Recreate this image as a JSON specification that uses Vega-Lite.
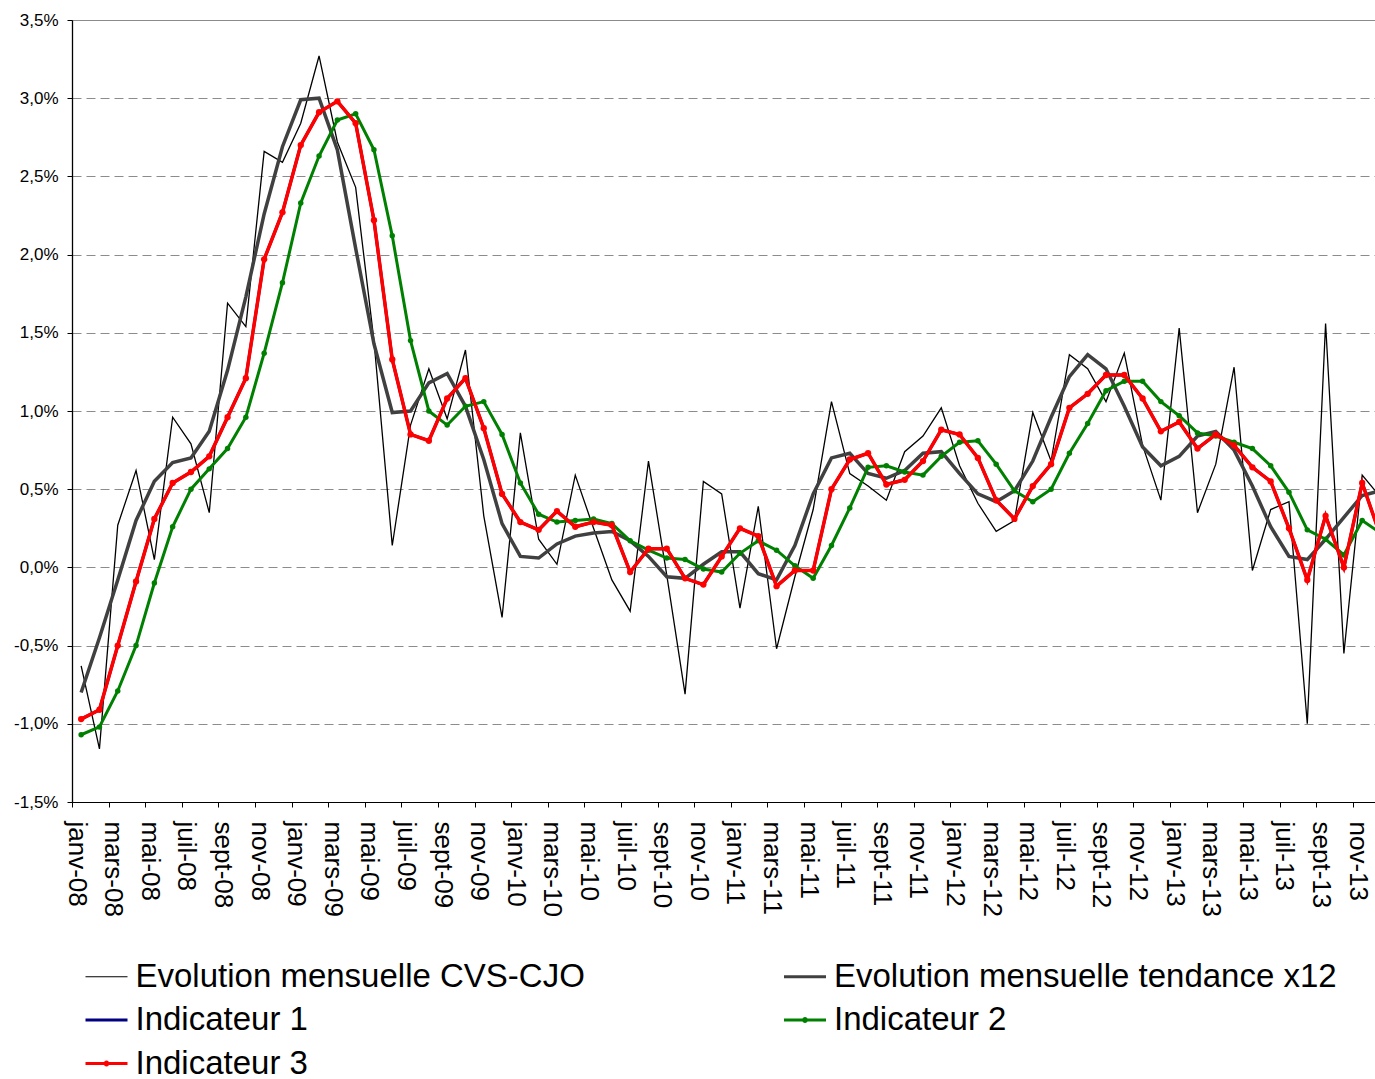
{
  "$schema": "https://vega.github.io/schema/vega-lite/v6.json",
  "width": 1303,
  "height": 782,
  "autosize": {"type": "none"},
  "padding": {"left": 72, "top": 20, "right": 0, "bottom": 277},
  "background": "white",
  "config": {
    "view": {"stroke": "#8c8c8c", "strokeWidth": 1},
    "font": "Liberation Sans"
  },
  "data": {
    "values": [
      {"i":0,"cvs":-0.63,"tend":-0.80,"ind1":-0.97,"ind2":-1.07,"ind3":-0.97},
      {"i":1,"cvs":-1.16,"tend":-0.45,"ind1":-0.91,"ind2":-1.02,"ind3":-0.91},
      {"i":2,"cvs":0.27,"tend":-0.08,"ind1":-0.50,"ind2":-0.79,"ind3":-0.50},
      {"i":3,"cvs":0.62,"tend":0.30,"ind1":-0.09,"ind2":-0.50,"ind3":-0.09},
      {"i":4,"cvs":0.05,"tend":0.55,"ind1":0.31,"ind2":-0.10,"ind3":0.31},
      {"i":5,"cvs":0.96,"tend":0.67,"ind1":0.54,"ind2":0.26,"ind3":0.54},
      {"i":6,"cvs":0.79,"tend":0.70,"ind1":0.61,"ind2":0.50,"ind3":0.61},
      {"i":7,"cvs":0.35,"tend":0.87,"ind1":0.71,"ind2":0.63,"ind3":0.71},
      {"i":8,"cvs":1.69,"tend":1.26,"ind1":0.96,"ind2":0.76,"ind3":0.96},
      {"i":9,"cvs":1.54,"tend":1.73,"ind1":1.21,"ind2":0.96,"ind3":1.21},
      {"i":10,"cvs":2.66,"tend":2.26,"ind1":1.97,"ind2":1.37,"ind3":1.97},
      {"i":11,"cvs":2.59,"tend":2.69,"ind1":2.27,"ind2":1.82,"ind3":2.27},
      {"i":12,"cvs":2.84,"tend":2.99,"ind1":2.70,"ind2":2.33,"ind3":2.70},
      {"i":13,"cvs":3.27,"tend":3.00,"ind1":2.91,"ind2":2.63,"ind3":2.91},
      {"i":14,"cvs":2.72,"tend":2.67,"ind1":2.98,"ind2":2.86,"ind3":2.98},
      {"i":15,"cvs":2.43,"tend":2.04,"ind1":2.84,"ind2":2.90,"ind3":2.84},
      {"i":16,"cvs":1.45,"tend":1.43,"ind1":2.22,"ind2":2.67,"ind3":2.22},
      {"i":17,"cvs":0.14,"tend":0.99,"ind1":1.33,"ind2":2.12,"ind3":1.33},
      {"i":18,"cvs":0.91,"tend":1.00,"ind1":0.85,"ind2":1.45,"ind3":0.85},
      {"i":19,"cvs":1.27,"tend":1.18,"ind1":0.81,"ind2":1.00,"ind3":0.81},
      {"i":20,"cvs":0.95,"tend":1.24,"ind1":1.08,"ind2":0.91,"ind3":1.08},
      {"i":21,"cvs":1.39,"tend":1.03,"ind1":1.21,"ind2":1.03,"ind3":1.21},
      {"i":22,"cvs":0.33,"tend":0.69,"ind1":0.89,"ind2":1.06,"ind3":0.89},
      {"i":23,"cvs":-0.32,"tend":0.28,"ind1":0.47,"ind2":0.85,"ind3":0.47},
      {"i":24,"cvs":0.86,"tend":0.07,"ind1":0.29,"ind2":0.54,"ind3":0.29},
      {"i":25,"cvs":0.18,"tend":0.06,"ind1":0.24,"ind2":0.34,"ind3":0.24},
      {"i":26,"cvs":0.02,"tend":0.15,"ind1":0.36,"ind2":0.29,"ind3":0.36},
      {"i":27,"cvs":0.59,"tend":0.20,"ind1":0.26,"ind2":0.30,"ind3":0.26},
      {"i":28,"cvs":0.25,"tend":0.22,"ind1":0.29,"ind2":0.31,"ind3":0.29},
      {"i":29,"cvs":-0.08,"tend":0.23,"ind1":0.27,"ind2":0.28,"ind3":0.27},
      {"i":30,"cvs":-0.28,"tend":0.17,"ind1":-0.03,"ind2":0.17,"ind3":-0.03},
      {"i":31,"cvs":0.68,"tend":0.07,"ind1":0.12,"ind2":0.11,"ind3":0.12},
      {"i":32,"cvs":-0.05,"tend":-0.06,"ind1":0.12,"ind2":0.06,"ind3":0.12},
      {"i":33,"cvs":-0.81,"tend":-0.07,"ind1":-0.07,"ind2":0.05,"ind3":-0.07},
      {"i":34,"cvs":0.55,"tend":0.02,"ind1":-0.11,"ind2":-0.01,"ind3":-0.11},
      {"i":35,"cvs":0.47,"tend":0.10,"ind1":0.07,"ind2":-0.03,"ind3":0.07},
      {"i":36,"cvs":-0.26,"tend":0.10,"ind1":0.25,"ind2":0.09,"ind3":0.25},
      {"i":37,"cvs":0.39,"tend":-0.04,"ind1":0.20,"ind2":0.17,"ind3":0.20},
      {"i":38,"cvs":-0.52,"tend":-0.08,"ind1":-0.12,"ind2":0.11,"ind3":-0.12},
      {"i":39,"cvs":-0.06,"tend":0.14,"ind1":-0.02,"ind2":0.01,"ind3":-0.02},
      {"i":40,"cvs":0.37,"tend":0.47,"ind1":-0.02,"ind2":-0.07,"ind3":-0.02},
      {"i":41,"cvs":1.06,"tend":0.70,"ind1":0.50,"ind2":0.14,"ind3":0.50},
      {"i":42,"cvs":0.60,"tend":0.73,"ind1":0.69,"ind2":0.38,"ind3":0.69},
      {"i":43,"cvs":0.52,"tend":0.60,"ind1":0.73,"ind2":0.64,"ind3":0.73},
      {"i":44,"cvs":0.43,"tend":0.57,"ind1":0.53,"ind2":0.65,"ind3":0.53},
      {"i":45,"cvs":0.74,"tend":0.62,"ind1":0.56,"ind2":0.61,"ind3":0.56},
      {"i":46,"cvs":0.84,"tend":0.73,"ind1":0.68,"ind2":0.59,"ind3":0.68},
      {"i":47,"cvs":1.02,"tend":0.74,"ind1":0.88,"ind2":0.71,"ind3":0.88},
      {"i":48,"cvs":0.65,"tend":0.60,"ind1":0.85,"ind2":0.80,"ind3":0.85},
      {"i":49,"cvs":0.41,"tend":0.47,"ind1":0.70,"ind2":0.81,"ind3":0.70},
      {"i":50,"cvs":0.23,"tend":0.42,"ind1":0.43,"ind2":0.66,"ind3":0.43},
      {"i":51,"cvs":0.30,"tend":0.49,"ind1":0.31,"ind2":0.49,"ind3":0.31},
      {"i":52,"cvs":0.99,"tend":0.68,"ind1":0.52,"ind2":0.42,"ind3":0.52},
      {"i":53,"cvs":0.68,"tend":0.96,"ind1":0.66,"ind2":0.50,"ind3":0.66},
      {"i":54,"cvs":1.36,"tend":1.22,"ind1":1.02,"ind2":0.73,"ind3":1.02},
      {"i":55,"cvs":1.27,"tend":1.36,"ind1":1.11,"ind2":0.92,"ind3":1.11},
      {"i":56,"cvs":1.06,"tend":1.27,"ind1":1.23,"ind2":1.13,"ind3":1.23},
      {"i":57,"cvs":1.37,"tend":1.03,"ind1":1.23,"ind2":1.19,"ind3":1.23},
      {"i":58,"cvs":0.78,"tend":0.77,"ind1":1.08,"ind2":1.19,"ind3":1.08},
      {"i":59,"cvs":0.43,"tend":0.65,"ind1":0.87,"ind2":1.06,"ind3":0.87},
      {"i":60,"cvs":1.53,"tend":0.71,"ind1":0.93,"ind2":0.97,"ind3":0.93},
      {"i":61,"cvs":0.35,"tend":0.84,"ind1":0.76,"ind2":0.86,"ind3":0.76},
      {"i":62,"cvs":0.66,"tend":0.87,"ind1":0.85,"ind2":0.84,"ind3":0.85},
      {"i":63,"cvs":1.28,"tend":0.75,"ind1":0.78,"ind2":0.80,"ind3":0.78},
      {"i":64,"cvs":-0.02,"tend":0.52,"ind1":0.64,"ind2":0.76,"ind3":0.64},
      {"i":65,"cvs":0.37,"tend":0.26,"ind1":0.55,"ind2":0.65,"ind3":0.55},
      {"i":66,"cvs":0.42,"tend":0.07,"ind1":0.25,"ind2":0.48,"ind3":0.25},
      {"i":67,"cvs":-1.00,"tend":0.05,"ind1":-0.08,"ind2":0.24,"ind3":-0.08},
      {"i":68,"cvs":1.56,"tend":0.18,"ind1":0.33,"ind2":0.18,"ind3":0.33},
      {"i":69,"cvs":-0.55,"tend":0.32,"ind1":0.00,"ind2":0.08,"ind3":0.00},
      {"i":70,"cvs":0.59,"tend":0.46,"ind1":0.54,"ind2":0.30,"ind3":0.54},
      {"i":71,"cvs":0.45,"tend":0.49,"ind1":0.20,"ind2":0.22,"ind3":0.20}
    ]
  },
  "transform": [{"fold": ["cvs", "tend", "ind1", "ind2", "ind3"], "as": ["serie", "v"]}],
  "encoding": {
    "x": {
      "field": "i",
      "type": "quantitative",
      "scale": {"domain": [-0.5, 70.7], "nice": false, "zero": false},
      "axis": {
        "title": null,
        "grid": false,
        "values": [-0.5,1.5,3.5,5.5,7.5,9.5,11.5,13.5,15.5,17.5,19.5,21.5,23.5,25.5,27.5,29.5,31.5,33.5,35.5,37.5,39.5,41.5,43.5,45.5,47.5,49.5,51.5,53.5,55.5,57.5,59.5,61.5,63.5,65.5,67.5,69.5],
        "labelExpr": "['janv','févr','mars','avr','mai','juin','juil','août','sept','oct','nov','déc'][(datum.value + 0.5) % 12] + '-' + ((8 + floor((datum.value + 0.5) / 12)) < 10 ? '0' : '') + (8 + floor((datum.value + 0.5) / 12))",
        "labelAngle": 90,
        "labelAlign": "left",
        "labelBaseline": "middle",
        "labelOffset": 4,
        "labelFont": "Liberation Sans",
        "labelFontSize": 26,
        "labelColor": "black",
        "labelPadding": 14,
        "labelOverlap": false,
        "labelFlush": false,
        "labelBound": false,
        "tickSize": 5,
        "tickColor": "black",
        "domainColor": "black",
        "domainWidth": 1.2
      }
    },
    "y": {
      "field": "v",
      "type": "quantitative",
      "scale": {"domain": [-1.5, 3.5], "nice": false, "zero": false},
      "axis": {
        "title": null,
        "values": [-1.5, -1, -0.5, 0, 0.5, 1, 1.5, 2, 2.5, 3, 3.5],
        "labelExpr": "(datum.value < 0 ? '-' : '') + replace(format(abs(datum.value), '.1f'), '.', ',') + '%'",
        "grid": true,
        "gridDash": [9, 5],
        "gridColor": "#8c8c8c",
        "gridWidth": 1,
        "tickSize": 5,
        "tickColor": "black",
        "domainColor": "black",
        "domainWidth": 1.3,
        "labelFont": "Liberation Sans",
        "labelFontSize": 17,
        "labelColor": "black",
        "labelPadding": 9
      }
    }
  },
  "layer": [
    {
      "transform": [{"filter": "datum.serie == 'cvs'"}],
      "mark": {"type": "line", "strokeWidth": 1.3, "clip": true},
      "encoding": {
        "color": {
          "datum": "Evolution mensuelle CVS-CJO",
          "type": "nominal",
          "scale": {
            "domain": ["Evolution mensuelle CVS-CJO", "Evolution mensuelle tendance x12", "Indicateur 1", "Indicateur 2", "Indicateur 3"],
            "range": ["#000000", "#404040", "#000080", "#008000", "#ff0000"]
          },
          "legend": {
            "title": null,
            "orient": "none",
            "legendX": 18,
            "legendY": 940,
            "columns": 2,
            "direction": "horizontal",
            "padding": 0,
            "symbolType": "stroke",
            "symbolSize": 1764,
            "symbolStrokeWidth": 3,
            "labelFont": "Liberation Sans",
            "labelFontSize": 33,
            "labelColor": "black",
            "labelOffset": 12.5,
            "labelLimit": 2000,
            "rowPadding": 9.5,
            "columnPadding": 192.5,
            "encode": {
              "symbols": {
                "update": {
                  "shape": {"signal": "indexof(['Indicateur 2','Indicateur 3'], datum.value) >= 0 ? 'M-1,0H1M-0.07,0A0.07,0.07,0,1,0,0.07,0A0.07,0.07,0,1,0,-0.07,0' : 'M-1,0H1'"},
                  "strokeWidth": {"signal": "datum.value == 'Evolution mensuelle CVS-CJO' ? 1.2 : 3"},
                  "stroke": {"signal": "scale('color', datum.value)"},
                  "fill": {"signal": "indexof(['Indicateur 2','Indicateur 3'], datum.value) >= 0 ? scale('color', datum.value) : 'transparent'"},
                  "opacity": {"value": 1}
                }
              }
            }
          }
        }
      }
    },
    {
      "transform": [{"filter": "datum.serie == 'tend'"}],
      "mark": {"type": "line", "strokeWidth": 3.5, "clip": true},
      "encoding": {"color": {"datum": "Evolution mensuelle tendance x12", "type": "nominal"}}
    },
    {
      "transform": [{"filter": "datum.serie == 'ind1'"}],
      "mark": {"type": "line", "strokeWidth": 3, "clip": true},
      "encoding": {"color": {"datum": "Indicateur 1", "type": "nominal"}}
    },
    {
      "transform": [{"filter": "datum.serie == 'ind2'"}],
      "mark": {"type": "line", "strokeWidth": 3, "clip": true, "point": {"filled": true, "size": 30, "opacity": 1}},
      "encoding": {"color": {"datum": "Indicateur 2", "type": "nominal"}}
    },
    {
      "transform": [{"filter": "datum.serie == 'ind3'"}],
      "mark": {"type": "line", "strokeWidth": 3.5, "clip": true, "point": {"filled": true, "size": 40, "opacity": 1}},
      "encoding": {"color": {"datum": "Indicateur 3", "type": "nominal"}}
    }
  ]
}
